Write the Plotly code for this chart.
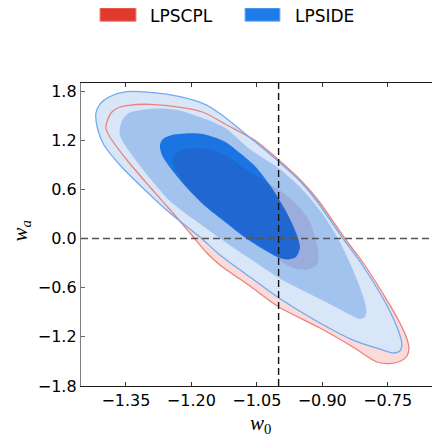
import plotly.graph_objects as go

# ---------------- data ----------------
labels = ["LPSCPL", "LPSIDE"]
ref_w0 = -1.0
ref_wa = 0.0

x_tickvals = [-1.35, -1.20, -1.05, -0.90, -0.75]
x_ticktext = ["\u22121.35", "\u22121.20", "\u22121.05", "\u22120.90", "\u22120.75"]
y_tickvals = [1.8, 1.2, 0.6, 0.0, -0.6, -1.2, -1.8]
y_ticktext = ["1.8", "1.2", "0.6", "0.0", "\u22120.6", "\u22121.2", "\u22121.8"]

# LPSCPL outer contour (w0, wa)
cpl_outer_w0 = [-1.3936, -1.3821, -1.3638, -1.3484, -1.2950, -1.2102, -1.1689, -1.1230,
                -1.0520, -0.9970, -0.9477, -0.9098, -0.8502, -0.8044, -0.7517, -0.7219,
                -0.7081, -0.7012, -0.7058, -0.7196, -0.7448, -0.7746, -0.8296, -0.9053,
                -0.9993, -1.0657, -1.1345, -1.1643, -1.2033, -1.2423, -1.2950, -1.3477,
                -1.3867, -1.3959]
cpl_outer_wa = [1.422, 1.544, 1.605, 1.623, 1.638, 1.587, 1.532, 1.397,
                1.190, 0.946, 0.702, 0.470, 0.018, -0.311, -0.751, -1.031,
                -1.190, -1.336, -1.434, -1.495, -1.526, -1.507, -1.324, -1.092,
                -0.836, -0.580, -0.323, -0.177, 0.067, 0.311, 0.629, 0.958,
                1.239, 1.349]

# LPSCPL inner contour
cpl_inner_w0 = [-1.2377, -1.2193, -1.1987, -1.1528, -1.1230, -1.0657, -1.0313, -0.9855,
                -0.9511, -0.9282, -0.9167, -0.9087, -0.9121, -0.9351, -0.9626, -0.9855,
                -1.0038, -1.0245, -1.0726, -1.1230, -1.1689, -1.2079, -1.2308, -1.2423]
cpl_inner_wa = [1.019, 1.080, 1.104, 1.080, 1.019, 0.812, 0.702, 0.543,
                0.372, 0.201, 0.018, -0.177, -0.323, -0.378, -0.366, -0.311,
                -0.232, -0.146, 0.012, 0.220, 0.409, 0.616, 0.799, 0.909]

# LPSIDE outer contour
ide_outer_w0 = [-1.4188, -1.4096, -1.3867, -1.3484, -1.2950, -1.2262, -1.1650, -1.1299,
                -1.0589, -1.0015, -0.9511, -0.9144, -0.8548, -0.8113, -0.7585, -0.7287,
                -0.7173, -0.7219, -0.7356, -0.7677, -0.8296, -0.9053, -0.9993, -1.0657,
                -1.1345, -1.1804, -1.2491, -1.3064, -1.3638, -1.4004, -1.4142]
ide_outer_wa = [1.532, 1.641, 1.733, 1.792, 1.784, 1.731, 1.629, 1.507,
                1.202, 0.946, 0.702, 0.470, 0.018, -0.299, -0.751, -1.080,
                -1.288, -1.373, -1.397, -1.349, -1.239, -1.031, -0.726, -0.470,
                -0.201, 0.018, 0.311, 0.592, 0.897, 1.141, 1.324]

# LPSIDE middle contour
ide_mid_w0 = [-1.3638, -1.3569, -1.3431, -1.3064, -1.2721, -1.2308, -1.1918, -1.1528,
              -1.1208, -1.0634, -1.0038, -0.9511, -0.9007, -0.8617, -0.8365, -0.8181,
              -0.8044, -0.7987, -0.8021, -0.8136, -0.8296, -0.9053, -0.9993, -1.0268,
              -1.0955, -1.1735, -1.2491, -1.3064, -1.3523, -1.3638]
ide_mid_wa = [1.349, 1.458, 1.532, 1.574, 1.587, 1.568, 1.501, 1.428,
              1.342, 1.080, 0.873, 0.629, 0.311, -0.018, -0.299, -0.531,
              -0.738, -0.885, -0.958, -0.982, -0.946, -0.738, -0.482, -0.384,
              -0.140, 0.153, 0.458, 0.812, 1.141, 1.263]

# LPSIDE inner contour
ide_inner_w0 = [-1.2721, -1.2652, -1.2445, -1.1918, -1.1643, -1.1230, -1.0887, -1.0543,
                -1.0153, -0.9809, -0.9580, -0.9511, -0.9603, -0.9786, -0.9970, -1.0245,
                -1.0726, -1.1230, -1.1689, -1.2079, -1.2445, -1.2675]
ide_inner_wa = [1.141, 1.214, 1.263, 1.284, 1.263, 1.181, 1.043, 0.885,
                0.616, 0.311, 0.043, -0.116, -0.226, -0.256, -0.238, -0.165,
                -0.006, 0.201, 0.397, 0.604, 0.836, 1.019]

# ---------------- styles ----------------
PINK = "#fadbda"
RED_LINE = "#e9837d"
LIGHT_BLUE = "#d9e6f7"
BLUE_LINE = "#72abf0"
MID_BLUE = "#a3c3ef"
DARK_BLUE = "#1a74e2"
RED_PATCH = "#e03a2c"
BLUE_PATCH = "#1e7ce8"
SMOOTH = 0.8


def closed(a):
    return list(a) + [a[0]]


fig = go.Figure()


def add_fill(xs, ys, color):
    fig.add_trace(go.Scatter(x=closed(xs), y=closed(ys), mode="lines", fill="toself",
                             fillcolor=color,
                             line=dict(width=0, color=color, shape="spline", smoothing=SMOOTH),
                             hoverinfo="skip", showlegend=False))


def add_line(xs, ys, color):
    fig.add_trace(go.Scatter(x=closed(xs), y=closed(ys), mode="lines",
                             line=dict(width=1.3, color=color, shape="spline", smoothing=SMOOTH),
                             hoverinfo="skip", showlegend=False))


add_fill(cpl_outer_w0, cpl_outer_wa, PINK)
add_fill(ide_outer_w0, ide_outer_wa, LIGHT_BLUE)
add_fill(ide_mid_w0, ide_mid_wa, MID_BLUE)
add_fill(ide_inner_w0, ide_inner_wa, DARK_BLUE)
add_fill(cpl_inner_w0, cpl_inner_wa, "rgba(90,0,80,0.11)")
add_line(cpl_outer_w0, cpl_outer_wa, RED_LINE)
add_line(ide_outer_w0, ide_outer_wa, BLUE_LINE)

# reference lines
shapes = [
    dict(type="line", xref="x", yref="paper", x0=ref_w0, x1=ref_w0, y0=0, y1=1,
         line=dict(color="#111111", width=1.4, dash="7px,4px"), layer="above"),
    dict(type="line", xref="paper", yref="y", x0=0, x1=1, y0=ref_wa, y1=ref_wa,
         line=dict(color="#555555", width=1.4, dash="7px,4px"), layer="above"),
    # legend patches
    dict(type="rect", xref="paper", yref="paper", x0=0.0529, x1=0.1532, y0=1.2036, y1=1.2478,
         fillcolor=RED_PATCH, line=dict(color="#ec8a80", width=1)),
    dict(type="rect", xref="paper", yref="paper", x0=0.4568, x1=0.5543, y0=1.2036, y1=1.2478,
         fillcolor=BLUE_PATCH, line=dict(color="#8ab8f0", width=1)),
]

annotations = [
    dict(text=labels[0], xref="paper", yref="paper", x=0.188, y=1.221, xanchor="left",
         yanchor="middle", showarrow=False, font=dict(family="DejaVu Sans", size=17, color="black")),
    dict(text=labels[1], xref="paper", yref="paper", x=0.591, y=1.221, xanchor="left",
         yanchor="middle", showarrow=False, font=dict(family="DejaVu Sans", size=17, color="black")),
    dict(text="<i>w</i><sub>0</sub>", xref="paper", yref="paper", x=0.5, y=-0.124,
         xanchor="center", yanchor="middle", showarrow=False,
         font=dict(family="Liberation Serif", size=21, color="black")),
    dict(text="<i>w</i><sub><i>a</i></sub>", xref="paper", yref="paper", x=-0.167, y=0.51,
         xanchor="center", yanchor="middle", showarrow=False, textangle=-90,
         font=dict(family="Liberation Serif", size=21, color="black")),
]

# page body has an 8px margin, so the figure is 8px smaller than the window
fig.update_layout(
    width=432, height=426,
    margin=dict(l=73, r=0, t=75, b=48),
    paper_bgcolor="white", plot_bgcolor="white",
    shapes=shapes, annotations=annotations, showlegend=False,
    xaxis=dict(range=[-1.453, -0.630], tickvals=x_tickvals, ticktext=x_ticktext,
               showgrid=False, zeroline=False, showline=True, linecolor="#1a1a1a", linewidth=1.3,
               mirror="ticks", ticks="inside", ticklen=4, tickcolor="#333333", tickwidth=1,
               tickfont=dict(family="DejaVu Sans", size=16, color="black")),
    yaxis=dict(range=[-1.8, 1.898], tickvals=y_tickvals, ticktext=y_ticktext,
               showgrid=False, zeroline=False, showline=True, linecolor="#808080", linewidth=1.3,
               mirror="ticks", ticks="inside", ticklen=4, tickcolor="#666666", tickwidth=1,
               tickfont=dict(family="DejaVu Sans", size=16, color="black")),
)

fig.write_html("out.html")
